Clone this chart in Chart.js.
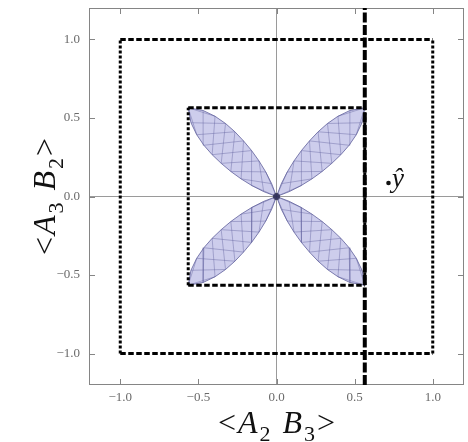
<!DOCTYPE html>
<html>
<head>
<meta charset="utf-8">
<script src="https://cdn.jsdelivr.net/npm/chart.js@4.4.1/dist/chart.umd.min.js"></script>
<style>
  html, body { margin: 0; padding: 0; background: #fff; }
</style>
</head>
<body>
<canvas id="plot" width="468" height="442"></canvas>
<script>
// axis range and labelled ticks
const axisMin = -1.2;
const axisMax = 1.2;
const tickValues = [-1.0, -0.5, 0.0, 0.5, 1.0];
const tickLabels = ["\u22121.0", "\u22120.5", "0.0", "0.5", "1.0"];

// bounding squares (half side) and the vertical cut line
const outerHalf = 1.0;
const innerHalf = 0.565;
const cutX = 0.565;

// one petal: half-width across the diagonal at stations along it (0 = origin, 1 = corner)
const petalStations = [0, 0.1, 0.2, 0.3, 0.4, 0.5, 0.6, 0.7, 0.8, 0.9, 1.0];
const petalHalfWidth = [0, 0.036, 0.062, 0.081, 0.094, 0.101, 0.103, 0.098, 0.083, 0.055, 0];
// quadrant of each petal
const petalDirs = [[1, 1], [-1, 1], [-1, -1], [1, -1]];

const SERIF = "'Liberation Serif', 'DejaVu Serif', serif";

// the four sides of a centred square, each with its own dot pattern
function squareSides(h) {
  return [
    { pts: [{ x: -h, y: -h }, { x: h, y: -h }], dash: [5.5, 2.5] },
    { pts: [{ x: -h, y: h }, { x: h, y: h }], dash: [5.5, 2.5] },
    { pts: [{ x: -h, y: -h }, { x: -h, y: h }], dash: [3, 2] },
    { pts: [{ x: h, y: -h }, { x: h, y: h }], dash: [3, 2] }
  ];
}

// point on a petal: t along the diagonal, w across it
function petalPoint(dir, t, w) {
  const sx = dir[0], sy = dir[1];
  const nx = -sy / Math.SQRT2, ny = sx / Math.SQRT2;
  return { x: t * innerHalf * sx + w * nx, y: t * innerHalf * sy + w * ny };
}

function petalOutline(dir) {
  const pts = [];
  for (let i = 0; i < petalStations.length; i++) {
    pts.push(petalPoint(dir, petalStations[i], petalHalfWidth[i]));
  }
  for (let i = petalStations.length - 1; i >= 0; i--) {
    pts.push(petalPoint(dir, petalStations[i], -petalHalfWidth[i]));
  }
  return pts;
}

// crossing mesh lines joining opposite edges two stations apart
function petalMesh(dir) {
  const lines = [];
  for (let i = 0; i + 2 < petalStations.length; i++) {
    lines.push([
      petalPoint(dir, petalStations[i], petalHalfWidth[i]),
      petalPoint(dir, petalStations[i + 2], -petalHalfWidth[i + 2])
    ]);
    lines.push([
      petalPoint(dir, petalStations[i], -petalHalfWidth[i]),
      petalPoint(dir, petalStations[i + 2], petalHalfWidth[i + 2])
    ]);
  }
  return lines;
}

const datasets = [];
[outerHalf, innerHalf].forEach(h => {
  squareSides(h).forEach(side => {
    datasets.push({
      data: side.pts, showLine: true, borderColor: "#000", borderWidth: 3,
      borderDash: side.dash, borderCapStyle: "butt", pointRadius: 0
    });
  });
});
datasets.push({
  data: [{ x: cutX, y: axisMin }, { x: cutX, y: axisMax }], showLine: true,
  borderColor: "#000", borderWidth: 4, borderDash: [10, 2.5], borderCapStyle: "butt", pointRadius: 0
});
datasets.push({
  data: [{ x: 0, y: 0 }], pointRadius: 3.5, pointBackgroundColor: "rgba(30,30,70,0.75)",
  pointBorderWidth: 0
});
petalDirs.forEach(dir => {
  petalMesh(dir).forEach(seg => {
    datasets.push({
      data: seg, showLine: true, borderColor: "rgba(100,100,160,0.55)", borderWidth: 0.8,
      pointRadius: 0
    });
  });
});
petalDirs.forEach(dir => {
  datasets.push({
    data: petalOutline(dir), showLine: true, fill: "shape",
    backgroundColor: "rgba(150,150,215,0.48)", borderColor: "rgba(95,95,155,0.8)",
    borderWidth: 1, pointRadius: 0
  });
});

function tickText(v) {
  const i = tickValues.findIndex(t => Math.abs(t - v) < 1e-6);
  return i >= 0 ? tickLabels[i] : null;
}

// <A_2 B_3> style label, centred on (0,0) at the baseline
function drawMath(ctx, parts, size) {
  const subSize = Math.round(size * 0.68);
  const fontOf = p => p[1] === "i" ? `italic ${size}px ${SERIF}` :
    p[1] === "s" ? `${subSize}px ${SERIF}` : `${size}px ${SERIF}`;
  const gap = 2;
  let total = 0;
  const widths = parts.map(p => {
    ctx.font = fontOf(p);
    const w = ctx.measureText(p[0]).width + gap;
    total += w;
    return w;
  });
  total -= gap;
  let cx = -total / 2;
  parts.forEach((p, i) => {
    ctx.font = fontOf(p);
    ctx.fillText(p[0], cx, p[1] === "s" ? size * 0.24 : 0);
    cx += widths[i];
  });
}

const frameAndLabels = {
  id: "frameAndLabels",
  beforeDatasetsDraw(chart) {
    const { ctx, chartArea: a, scales: { x, y } } = chart;
    ctx.save();
    ctx.strokeStyle = "#858585";
    ctx.lineWidth = 1;
    ctx.beginPath();
    x.ticks.forEach(t => {
      const p = Math.round(x.getPixelForValue(t.value)) + 0.5;
      const len = t.label ? 6 : 3.5;
      ctx.moveTo(p, a.bottom); ctx.lineTo(p, a.bottom - len);
      ctx.moveTo(p, a.top); ctx.lineTo(p, a.top + len);
    });
    y.ticks.forEach(t => {
      const p = Math.round(y.getPixelForValue(t.value)) + 0.5;
      const len = t.label ? 6 : 3.5;
      ctx.moveTo(a.left, p); ctx.lineTo(a.left + len, p);
      ctx.moveTo(a.right, p); ctx.lineTo(a.right - len, p);
    });
    ctx.stroke();
    ctx.strokeRect(a.left + 0.5, a.top + 0.5, a.width - 1, a.height - 1);
    ctx.restore();
  },
  afterDraw(chart) {
    const { ctx, chartArea: a } = chart;
    ctx.save();
    ctx.fillStyle = "#111";
    ctx.textBaseline = "alphabetic";
    ctx.textAlign = "left";
    const xTitle = [["<", "n"], ["A", "i"], ["2", "s"], [" ", "n"], ["B", "i"], ["3", "s"], [">", "n"]];
    const yTitle = [["<", "n"], ["A", "i"], ["3", "s"], [" ", "n"], ["B", "i"], ["2", "s"], [">", "n"]];
    ctx.save();
    ctx.translate((a.left + a.right) / 2, 433);
    drawMath(ctx, xTitle, 32);
    ctx.restore();
    ctx.save();
    ctx.translate(55, (a.top + a.bottom) / 2);
    ctx.rotate(-Math.PI / 2);
    drawMath(ctx, yTitle, 32);
    ctx.restore();

    // state marker next to the cut line
    ctx.beginPath();
    ctx.arc(388.5, 183, 2.3, 0, Math.PI * 2);
    ctx.fill();
    ctx.font = `italic 27px ${SERIF}`;
    ctx.fillText("\u0177", 392, 187);
    ctx.restore();
  }
};

// keep the plot square fixed: no label overhang padding
function noOverhang(s) {
  s.paddingTop = 0; s.paddingBottom = 0; s.paddingLeft = 0; s.paddingRight = 0;
}

const scaleBase = {
  type: "linear",
  min: axisMin,
  max: axisMax,
  border: { display: false },
  grid: {
    drawTicks: false,
    color: c => (c.tick && Math.abs(c.tick.value) < 1e-6) ? "#9a9a9a" : "rgba(0,0,0,0)",
    lineWidth: 1
  }
};

new Chart(document.getElementById("plot"), {
  type: "scatter",
  data: { datasets },
  options: {
    responsive: false,
    animation: false,
    layout: { padding: { top: 8, right: 2, left: 0, bottom: 0 } },
    plugins: { legend: { display: false }, tooltip: { enabled: false } },
    scales: {
      x: {
        ...scaleBase,
        ticks: {
          stepSize: 0.1, autoSkip: false, maxRotation: 0, padding: 5,
          color: "#6a6a6a", font: { family: SERIF, size: 13 },
          callback: v => tickText(v)
        },
        afterFit: s => { s.height = 57; noOverhang(s); }
      },
      y: {
        ...scaleBase,
        ticks: {
          stepSize: 0.1, autoSkip: false, padding: 9,
          color: "#6a6a6a", font: { family: SERIF, size: 13 },
          callback: v => tickText(v)
        },
        afterFit: s => { s.width = 89; noOverhang(s); }
      }
    }
  },
  plugins: [frameAndLabels]
});
</script>
</body>
</html>
